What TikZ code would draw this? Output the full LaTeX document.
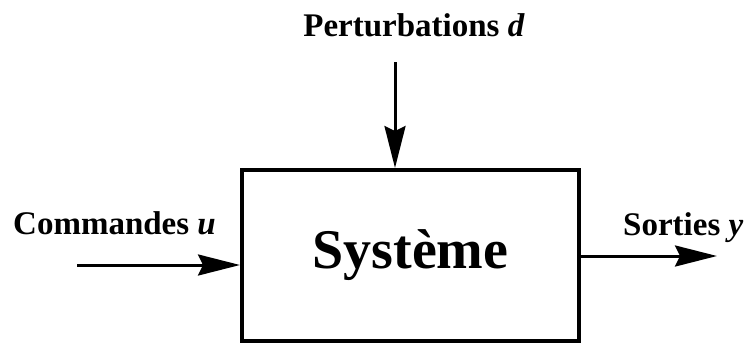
\documentclass[tikz,border=0pt]{standalone}
\usepackage{fontspec}
\setmainfont{Liberation Serif}
\usetikzlibrary{arrows.meta,positioning}
\tikzset{
  sysbox/.style={draw, line width=4pt, minimum width=337pt, minimum height=171pt,
                 inner sep=0pt, font=\fontsize{56}{60}\selectfont\bfseries},
  sglabel/.style={inner sep=0pt, font=\fontsize{33}{36}\selectfont\bfseries},
  sigarr/.style={-{Stealth[length=42pt, width=21pt, inset=5pt]}, line width=3pt}
}
\begin{document}
\begin{tikzpicture}[x=1pt, y=-1pt]
\useasboundingbox (0,0) rectangle (746,343);
\node[sysbox] (sys) at (410.5,255.5) {Système};
\node[sglabel, anchor=base] (pert) at (414,36) {Perturbations \textit{d}};
\node[sglabel, anchor=base west] (cmd) at (13,234) {Commandes \textit{u}};
\node[sglabel, anchor=base west] (sort) at (623,235) {Sorties \textit{y}};
\coordinate (din) at (395,62);
\coordinate (uin) at (77,265);
\coordinate (yout) at (717,256);
\draw[sigarr] (din) -- (sys.north -| din);
\draw[sigarr] (uin) -- (sys.west |- uin);
\draw[sigarr] (sys.east |- yout) -- (yout);
\end{tikzpicture}
\end{document}
